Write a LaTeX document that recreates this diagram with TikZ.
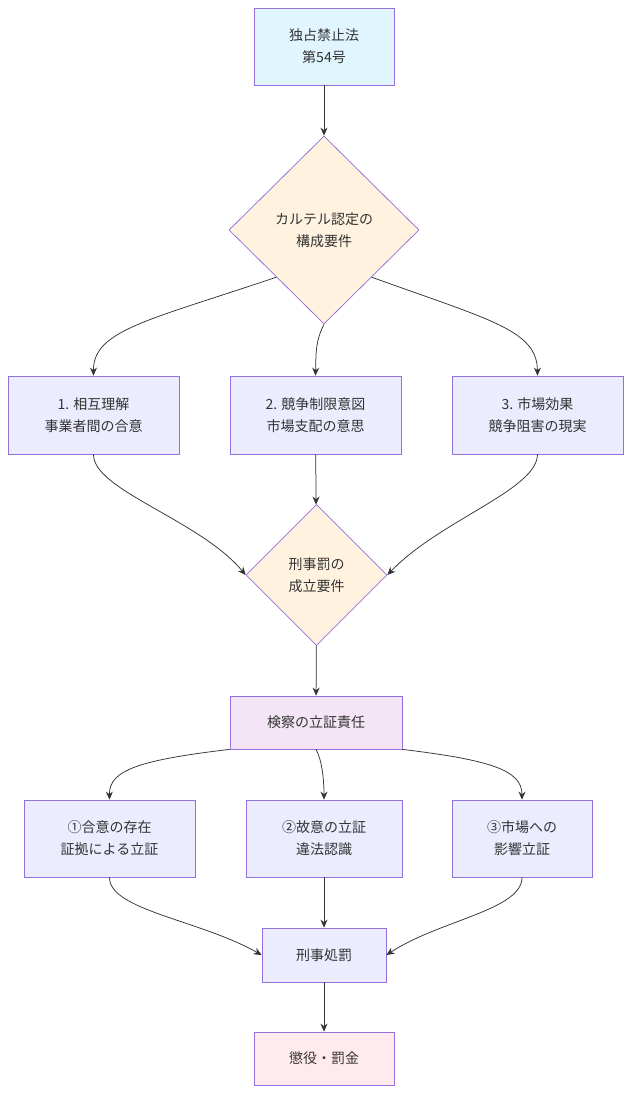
\documentclass[tikz,border=0pt]{standalone}
\usepackage{fontspec}
\setmainfont{Noto Sans CJK JP}
\usetikzlibrary{shapes.geometric,arrows.meta}
\definecolor{boxfill}{HTML}{ECECFF}
\definecolor{boxline}{HTML}{9370DB}
\definecolor{lawfill}{HTML}{E1F5FE}
\definecolor{decfill}{HTML}{FFF3E0}
\definecolor{profill}{HTML}{F3E5F5}
\definecolor{penfill}{HTML}{FFEBEE}
\definecolor{edge}{HTML}{333333}
\tikzset{every picture/.style={line width=0.75pt}}
\tikzset{
  box/.style={draw=boxline, fill=boxfill, align=center, inner sep=0pt, text=edge,
    font=\fontsize{14}{22}\selectfont},
  dia/.style={draw=boxline, fill=decfill, diamond, aspect=1, align=center, inner sep=0pt,
    text=edge, font=\fontsize{14}{22}\selectfont},
  link/.style={draw=edge, -{Stealth[length=8pt,width=7pt]}}
}
\begin{document}
\begin{tikzpicture}[x=1pt,y=-1pt]
\useasboundingbox (0,0) rectangle (632,1094);

% nodes
\node [box, fill=lawfill, minimum width=140, minimum height=77] (law) at (324,46.5) {独占禁止法\\第54号};
\node [dia, minimum width=190, minimum height=188] (cartel) at (324,230) {カルテル認定の\\構成要件};
\node [box, minimum width=171, minimum height=78] (m1) at (93.5,415) {1. 相互理解\\事業者間の合意};
\node [box, minimum width=171, minimum height=78] (m2) at (315.5,415) {2. 競争制限意図\\市場支配の意思};
\node [box, minimum width=171, minimum height=78] (m3) at (537.5,415) {3. 市場効果\\競争阻害の現実};
\node [dia, minimum width=141, minimum height=141] (crime) at (316.5,575) {刑事罰の\\成立要件};
\node [box, fill=profill, minimum width=172, minimum height=53] (pros) at (316,722.5) {検察の立証責任};
\node [box, minimum width=171, minimum height=77] (p1) at (109.5,838.5) {①合意の存在\\証拠による立証};
\node [box, minimum width=156, minimum height=77] (p2) at (324,838.5) {②故意の立証\\違法認識};
\node [box, minimum width=140, minimum height=77] (p3) at (522,838.5) {③市場への\\影響立証};
\node [box, minimum width=124, minimum height=54] (punish) at (324,955) {刑事処罰};
\node [box, fill=penfill, minimum width=140, minimum height=53] (pen) at (324,1058.5) {懲役・罰金};

% edges
\draw [link] (law) -- (cartel);
\draw [link] (cartel.south west) ++(0,0) .. controls (150,320) and (93,330) .. (m1.north);
\draw [link] (cartel.south) .. controls (316,340) and (316,350) .. (m2.north);
\draw [link] (cartel.south east) .. controls (490,320) and (537,330) .. (m3.north);
\draw [link] (m1.south) .. controls (93,490) and (200,520) .. (crime.west);
\draw [link] (m2) -- (crime);
\draw [link] (m3.south) .. controls (537,490) and (440,520) .. (crime.east);
\draw [link] (crime) -- (pros);
\draw [link] (pros.south west) .. controls (140,760) and (109,770) .. (p1.north);
\draw [link] (pros.south) .. controls (322,760) and (324,780) .. (p2.north);
\draw [link] (pros.south east) .. controls (490,760) and (522,770) .. (p3.north);
\draw [link] (p1.south) .. controls (109,910) and (200,920) .. (punish.west);
\draw [link] (p2) -- (punish);
\draw [link] (p3.south) .. controls (522,910) and (440,920) .. (punish.east);
\draw [link] (punish) -- (pen);
\end{tikzpicture}
\end{document}
